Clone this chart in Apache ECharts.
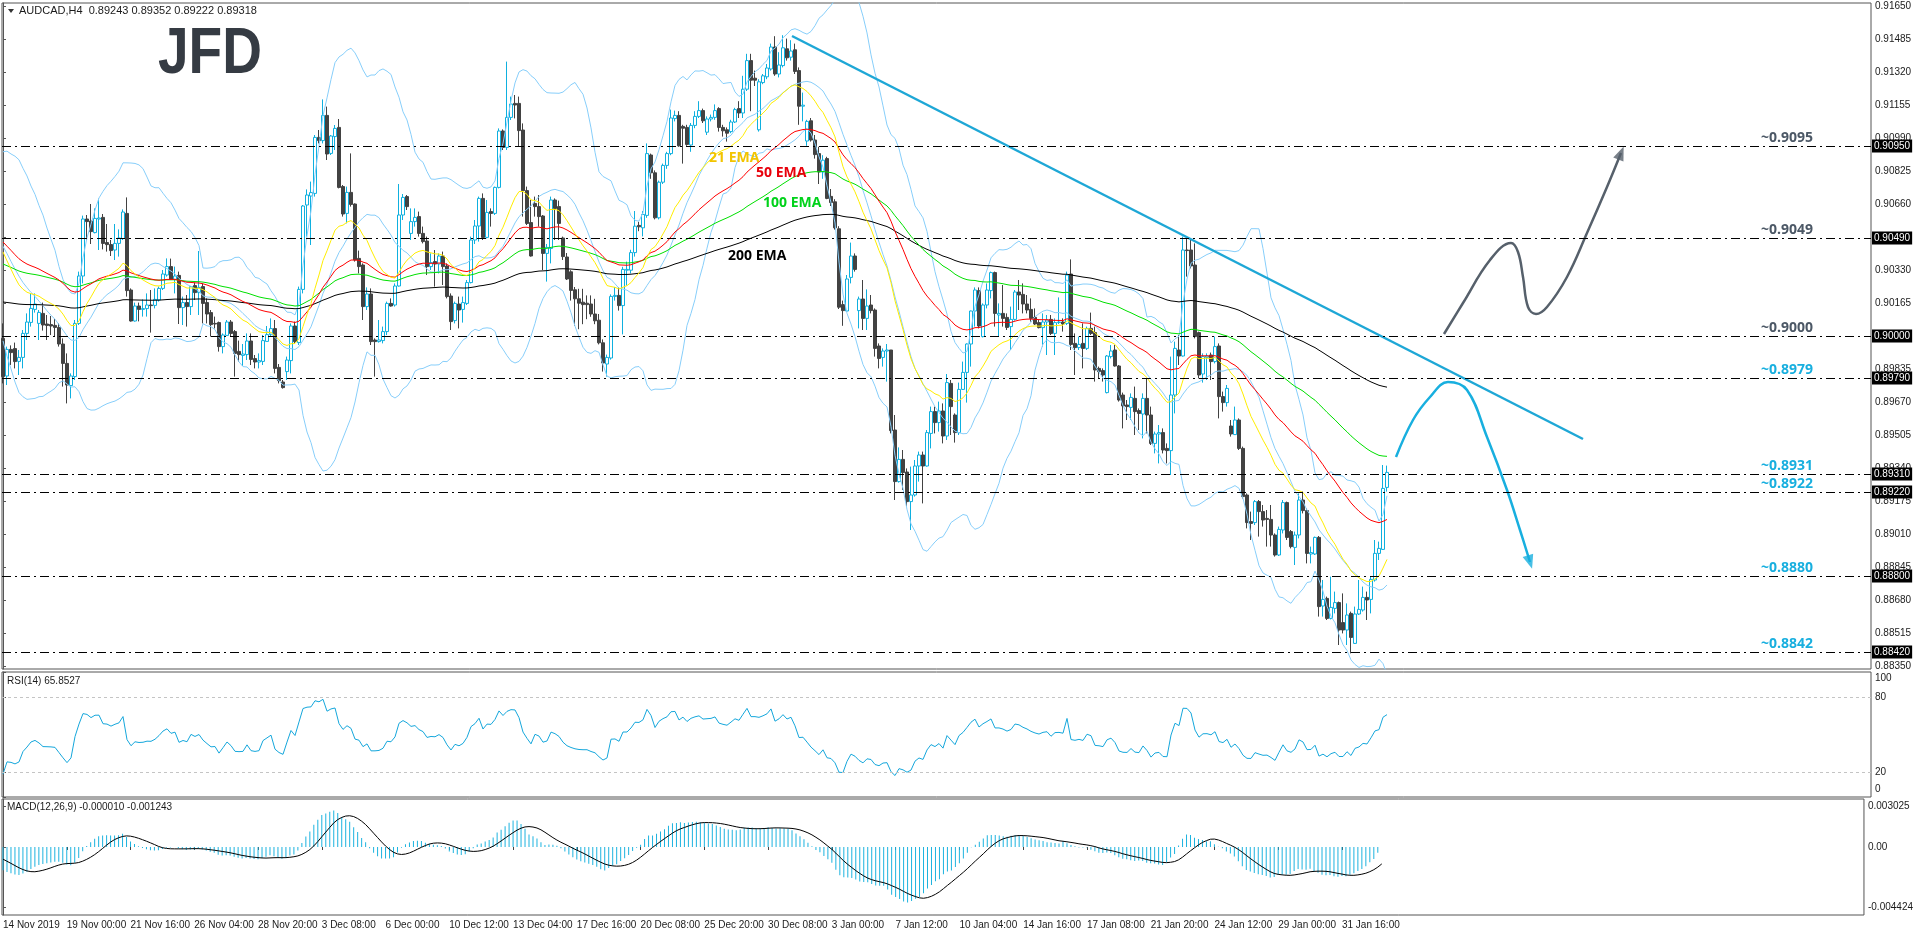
<!DOCTYPE html>
<html>
<head>
<meta charset="utf-8">
<title>AUDCAD H4</title>
<script src="https://cdn.jsdelivr.net/npm/echarts@6.0.0/dist/echarts.min.js"></script>
<style>
  html, body { margin: 0; padding: 0; background: #fff; }
  #chart { width: 1916px; height: 936px; }
</style>
</head>
<body>
<div id="chart"></div>
<script>
// bar index is the x value; one time label every 16 bars
const tickDates = ['14 Nov 2019', '19 Nov 00:00', '21 Nov 16:00', '26 Nov 04:00', '28 Nov 20:00', '3 Dec 08:00',
  '6 Dec 00:00', '10 Dec 12:00', '13 Dec 04:00', '17 Dec 16:00', '20 Dec 08:00', '25 Dec 20:00', '30 Dec 08:00',
  '3 Jan 00:00', '7 Jan 12:00', '10 Jan 04:00', '14 Jan 16:00', '17 Jan 08:00', '21 Jan 20:00', '24 Jan 12:00',
  '29 Jan 00:00', '31 Jan 16:00'];
const barsPerLabel = 16;

const priceTicks = [0.8835, 0.88515, 0.8868, 0.88845, 0.8901, 0.89175, 0.8934, 0.89505, 0.8967, 0.89835, 0.9,
  0.90165, 0.9033, 0.90495, 0.9066, 0.90825, 0.9099, 0.91155, 0.9132, 0.91485, 0.9165];
const rsiTicks = [0, 20, 80, 100];
const macdTicks = [0.003025, 0, -0.004424];

// [open, close, low, high]
const ohlc = [
[0.89988,0.89797,0.89763,0.90063],[0.89800,0.89933,0.89755,0.89947],[0.89933,0.89917,0.89855,0.89953],[0.89937,0.89872,0.89838,0.89967],
[0.89873,0.89893,0.89805,0.89930],[0.89893,0.90013,0.89838,0.90030],[0.90013,0.90070,0.89980,0.90113],[0.90068,0.90138,0.90047,0.90213],
[0.90133,0.90160,0.90117,0.90213],[0.90063,0.90118,0.89980,0.90130],[0.90113,0.90055,0.90027,0.90167],[0.90060,0.90053,0.89980,0.90105],
[0.90057,0.90050,0.90005,0.90100],[0.90053,0.90043,0.89997,0.90085],[0.90043,0.89960,0.89947,0.90063],[0.89960,0.89863,0.89747,0.89988],
[0.89863,0.89755,0.89663,0.89913],[0.89752,0.89800,0.89688,0.89813],[0.89797,0.90063,0.89780,0.90080],[0.90063,0.90300,0.90055,0.90322],
[0.90300,0.90585,0.90263,0.90602],[0.90585,0.90572,0.90480,0.90605],[0.90575,0.90522,0.90460,0.90660],[0.90517,0.90588,0.90513,0.90638],
[0.90585,0.90590,0.90430,0.90687],[0.90593,0.90463,0.90433,0.90610],[0.90467,0.90457,0.90422,0.90560],[0.90457,0.90427,0.90400,0.90480],
[0.90430,0.90463,0.90380,0.90560],[0.90463,0.90490,0.90397,0.90533],[0.90487,0.90620,0.90480,0.90633],[0.90613,0.90227,0.90197,0.90693],
[0.90230,0.90075,0.90072,0.90238],[0.90075,0.90150,0.90072,0.90167],[0.90150,0.90133,0.90073,0.90167],[0.90133,0.90137,0.90097,0.90183],
[0.90137,0.90155,0.90097,0.90213],[0.90155,0.90152,0.90017,0.90230],[0.90153,0.90183,0.90138,0.90238],[0.90180,0.90238,0.90172,0.90247],
[0.90238,0.90310,0.90230,0.90330],[0.90305,0.90347,0.90297,0.90388],[0.90347,0.90283,0.90280,0.90387],[0.90283,0.90300,0.90213,0.90347],
[0.90303,0.90142,0.90060,0.90322],[0.90142,0.90167,0.90055,0.90197],[0.90167,0.90147,0.90047,0.90205],[0.90147,0.90247,0.90105,0.90250],
[0.90252,0.90217,0.90180,0.90267],[0.90217,0.90243,0.90105,0.90425],[0.90247,0.90163,0.90063,0.90263],[0.90167,0.90110,0.90063,0.90188],
[0.90117,0.90057,0.89997,0.90130],[0.90063,0.90060,0.90038,0.90097],[0.90067,0.89947,0.89922,0.90072],[0.89947,0.90005,0.89913,0.90013],
[0.90003,0.90070,0.90000,0.90080],[0.90070,0.90013,0.90000,0.90080],[0.90022,0.89913,0.89797,0.90030],[0.89923,0.89907,0.89872,0.89977],
[0.89903,0.89910,0.89850,0.89960],[0.89907,0.89975,0.89880,0.90013],[0.89975,0.89883,0.89855,0.90013],[0.89887,0.89870,0.89838,0.89905],
[0.89870,0.89877,0.89838,0.89913],[0.89873,0.89977,0.89855,0.90005],[0.89973,0.90007,0.89972,0.90050],[0.90007,0.90037,0.89997,0.90088],
[0.90037,0.89838,0.89813,0.90080],[0.89843,0.89777,0.89763,0.89860],[0.89770,0.89742,0.89737,0.89780],[0.89822,0.89880,0.89780,0.89897],
[0.89877,0.90050,0.89813,0.90063],[0.90050,0.89972,0.89963,0.90072],[0.89967,0.90233,0.89955,0.90247],[0.90233,0.90650,0.90213,0.90655],
[0.90655,0.90705,0.90497,0.90733],[0.90700,0.90717,0.90455,0.90772],[0.90713,0.90993,0.90697,0.91005],[0.90993,0.90977,0.90963,0.91030],
[0.90977,0.91103,0.90963,0.91183],[0.91103,0.90910,0.90880,0.91147],[0.90913,0.91000,0.90905,0.91005],[0.90997,0.91038,0.90930,0.91055],
[0.91043,0.90743,0.90738,0.91085],[0.90747,0.90610,0.90597,0.90755],[0.90613,0.90718,0.90563,0.90747],[0.90718,0.90658,0.90647,0.90913],
[0.90660,0.90380,0.90372,0.90663],[0.90388,0.90347,0.90313,0.90427],[0.90355,0.90147,0.90080,0.90363],[0.90147,0.90210,0.90130,0.90243],
[0.90210,0.89972,0.89955,0.90238],[0.89980,0.89972,0.89797,0.89988],[0.89972,0.89980,0.89967,0.90080],[0.89977,0.90022,0.89963,0.90047],
[0.90022,0.90163,0.90005,0.90172],[0.90163,0.90150,0.90147,0.90188],[0.90155,0.90250,0.90147,0.90263],[0.90250,0.90605,0.90247,0.90760],
[0.90605,0.90693,0.90580,0.90710],[0.90697,0.90647,0.90630,0.90705],[0.90513,0.90572,0.90480,0.90638],[0.90572,0.90593,0.90547,0.90638],
[0.90597,0.90513,0.90497,0.90622],[0.90513,0.90472,0.90463,0.90547],[0.90475,0.90347,0.90305,0.90497],[0.90347,0.90367,0.90330,0.90413],
[0.90372,0.90360,0.90247,0.90430],[0.90360,0.90400,0.90313,0.90413],[0.90400,0.90347,0.90255,0.90422],[0.90350,0.90197,0.90188,0.90363],
[0.90200,0.90072,0.90030,0.90213],[0.90077,0.90163,0.90063,0.90172],[0.90160,0.90130,0.90038,0.90197],[0.90133,0.90167,0.90067,0.90197],
[0.90163,0.90267,0.90155,0.90280],[0.90267,0.90480,0.90263,0.90497],[0.90480,0.90550,0.90460,0.90580],[0.90550,0.90688,0.90472,0.90697],
[0.90688,0.90493,0.90480,0.90713],[0.90493,0.90618,0.90488,0.90680],[0.90622,0.90613,0.90547,0.90638],[0.90613,0.90743,0.90605,0.90747],
[0.90743,0.91025,0.90738,0.91038],[0.91025,0.90943,0.90930,0.91033],[0.90943,0.91093,0.90930,0.91372],[0.91093,0.91160,0.91080,0.91197],
[0.91163,0.91155,0.91088,0.91205],[0.91163,0.91027,0.90950,0.91197],[0.91030,0.90727,0.90597,0.91063],[0.90727,0.90563,0.90555,0.90747],
[0.90567,0.90400,0.90397,0.90680],[0.90663,0.90647,0.90597,0.90697],[0.90647,0.90597,0.90547,0.90705],[0.90600,0.90413,0.90330,0.90605],
[0.90413,0.90443,0.90272,0.90460],[0.90438,0.90680,0.90363,0.90697],[0.90680,0.90638,0.90480,0.90688],[0.90647,0.90563,0.90480,0.90677],
[0.90490,0.90397,0.90380,0.90497],[0.90395,0.90285,0.90280,0.90415],[0.90321,0.90228,0.90177,0.90329],[0.90231,0.90186,0.90051,0.90245],
[0.90186,0.90164,0.90034,0.90236],[0.90169,0.90157,0.90059,0.90236],[0.90164,0.90157,0.90084,0.90203],[0.90160,0.90110,0.90096,0.90203],
[0.90110,0.90076,0.90059,0.90186],[0.90079,0.89966,0.89958,0.90110],[0.89966,0.89865,0.89822,0.89983],[0.89860,0.89893,0.89797,0.89907],
[0.89890,0.90198,0.89882,0.90208],[0.90198,0.90203,0.90177,0.90245],[0.90203,0.90152,0.90127,0.90245],[0.90152,0.90333,0.90008,0.90346],
[0.90329,0.90333,0.90253,0.90372],[0.90329,0.90417,0.90313,0.90431],[0.90417,0.90549,0.90397,0.90625],[0.90553,0.90546,0.90524,0.90571],
[0.90541,0.90608,0.90498,0.90625],[0.90603,0.90912,0.90591,0.90963],[0.90905,0.90816,0.90786,0.90912],[0.90816,0.90591,0.90583,0.90828],
[0.90591,0.90769,0.90583,0.90777],[0.90769,0.90853,0.90760,0.90862],[0.90853,0.90912,0.90836,0.90921],[0.90912,0.91090,0.90904,0.91132],
[0.91087,0.91103,0.91073,0.91127],[0.91103,0.90951,0.90946,0.91124],[0.91048,0.91039,0.90862,0.91056],[0.91043,0.90958,0.90951,0.91056],
[0.90955,0.91053,0.90921,0.91065],[0.91053,0.91098,0.91039,0.91124],[0.91098,0.91127,0.91090,0.91174],[0.91127,0.91076,0.91065,0.91137],
[0.91019,0.91085,0.91005,0.91098],[0.91085,0.91093,0.91073,0.91107],[0.91093,0.91127,0.91081,0.91158],[0.91137,0.91043,0.91022,0.91144],
[0.91043,0.91026,0.90997,0.91056],[0.91031,0.91014,0.90972,0.91043],[0.91022,0.91070,0.91014,0.91081],[0.91070,0.91132,0.91065,0.91141],
[0.91137,0.91115,0.91090,0.91174],[0.91115,0.91234,0.91090,0.91301],[0.91234,0.91377,0.91225,0.91411],[0.91377,0.91279,0.91124,0.91411],
[0.91289,0.91279,0.91250,0.91327],[0.91031,0.91271,0.91022,0.91284],[0.91267,0.91301,0.91259,0.91310],[0.91296,0.91340,0.91284,0.91360],
[0.91335,0.91445,0.91327,0.91462],[0.91445,0.91310,0.91301,0.91499],[0.91310,0.91355,0.91293,0.91419],[0.91352,0.91441,0.91343,0.91504],
[0.91436,0.91391,0.91377,0.91487],[0.91394,0.91425,0.91377,0.91479],[0.91431,0.91323,0.91310,0.91462],[0.91327,0.91149,0.91056,0.91343],
[0.91149,0.91154,0.91073,0.91217],[0.90975,0.91073,0.90951,0.91081],[0.91076,0.90980,0.90972,0.91090],[0.90980,0.90907,0.90887,0.91005],
[0.90912,0.90820,0.90760,0.90946],[0.90820,0.90879,0.90786,0.90904],[0.90887,0.90688,0.90684,0.90896],[0.90698,0.90667,0.90650,0.90735],
[0.90671,0.90541,0.90532,0.90684],[0.90536,0.90144,0.90135,0.90549],[0.90157,0.90127,0.90051,0.90177],[0.90125,0.90285,0.90120,0.90305],
[0.90293,0.90400,0.90263,0.90467],[0.90400,0.90333,0.90322,0.90413],[0.90127,0.90185,0.90038,0.90197],[0.90185,0.90088,0.90030,0.90280],
[0.90088,0.90150,0.90030,0.90233],[0.90155,0.90127,0.90113,0.90205],[0.90130,0.89938,0.89897,0.90138],[0.89950,0.89888,0.89838,0.89963],
[0.89893,0.89925,0.89847,0.89938],[0.89925,0.89930,0.89772,0.89960],[0.89930,0.89527,0.89513,0.89930],[0.89530,0.89272,0.89180,0.89605],
[0.89272,0.89383,0.89267,0.89443],[0.89383,0.89317,0.89230,0.89430],[0.89320,0.89172,0.89147,0.89338],[0.89172,0.89205,0.89030,0.89347],
[0.89205,0.89350,0.89197,0.89380],[0.89350,0.89405,0.89272,0.89422],[0.89405,0.89350,0.89163,0.89422],[0.89350,0.89517,0.89347,0.89530],
[0.89513,0.89622,0.89438,0.89647],[0.89622,0.89567,0.89513,0.89647],[0.89567,0.89625,0.89522,0.89672],[0.89625,0.89500,0.89463,0.89663],
[0.89500,0.89767,0.89480,0.89810],[0.89763,0.89647,0.89505,0.89780],[0.89605,0.89517,0.89467,0.89613],[0.89517,0.89733,0.89505,0.89767],
[0.89733,0.89818,0.89730,0.89872],[0.89818,0.89960,0.89667,0.89963],[0.89960,0.90125,0.89847,0.90127],[0.90125,0.90230,0.90047,0.90243],
[0.90227,0.90050,0.90038,0.90243],[0.89997,0.90155,0.89993,0.90163],[0.90155,0.90230,0.90138,0.90263],[0.90227,0.90317,0.90188,0.90322],
[0.90317,0.90113,0.90047,0.90322],[0.90105,0.90113,0.89997,0.90163],[0.90113,0.90088,0.90047,0.90255],[0.90093,0.90043,0.90030,0.90113],
[0.90047,0.90083,0.89930,0.90147],[0.90083,0.90220,0.90077,0.90230],[0.90220,0.90205,0.90130,0.90280],[0.90208,0.90160,0.90113,0.90263],
[0.90160,0.90130,0.90113,0.90205],[0.90133,0.90088,0.90072,0.90188],[0.90093,0.90060,0.90055,0.90138],[0.90067,0.90042,0.90038,0.90080],
[0.90042,0.90070,0.89947,0.90113],[0.90070,0.90080,0.89905,0.90105],[0.90083,0.90013,0.90005,0.90105],[0.90013,0.90067,0.89905,0.90088],
[0.90067,0.90070,0.90060,0.90193],[0.90070,0.90060,0.90022,0.90088],[0.90063,0.90305,0.90055,0.90322],[0.90310,0.89958,0.89930,0.90383],
[0.89963,0.89942,0.89805,0.90013],[0.89942,0.89958,0.89930,0.89997],[0.89963,0.89938,0.89838,0.90063],[0.89938,0.90038,0.89930,0.90047],
[0.90038,0.90013,0.90005,0.90117],[0.90017,0.89830,0.89772,0.90047],[0.89838,0.89822,0.89788,0.89847],[0.89827,0.89805,0.89772,0.89838],
[0.89717,0.89900,0.89713,0.89905],[0.89897,0.89925,0.89888,0.89955],[0.89930,0.89850,0.89847,0.89955],[0.89850,0.89680,0.89672,0.89855],
[0.89705,0.89650,0.89538,0.89717],[0.89655,0.89647,0.89580,0.89680],[0.89643,0.89693,0.89580,0.89713],[0.89688,0.89622,0.89505,0.89747],
[0.89627,0.89613,0.89530,0.89638],[0.89610,0.89688,0.89488,0.89713],[0.89688,0.89605,0.89513,0.89788],[0.89605,0.89463,0.89455,0.89647],
[0.89463,0.89510,0.89413,0.89522],[0.89510,0.89517,0.89363,0.89555],[0.89517,0.89430,0.89413,0.89538],[0.89438,0.89427,0.89363,0.89463],
[0.89427,0.89705,0.89305,0.89897],[0.89705,0.89938,0.89613,0.89972],[0.89930,0.89900,0.89855,0.90005],[0.89900,0.90430,0.89897,0.90497],
[0.90430,0.90427,0.90297,0.90497],[0.90430,0.90350,0.90338,0.90483],[0.90355,0.89997,0.89988,0.90463],[0.90017,0.89805,0.89788,0.90022],
[0.89810,0.89897,0.89767,0.89913],[0.89893,0.89900,0.89780,0.89913],[0.89905,0.89872,0.89780,0.89917],[0.89872,0.89947,0.89863,0.89997],
[0.89950,0.89697,0.89588,0.89963],[0.89697,0.89667,0.89622,0.89722],[0.89667,0.89738,0.89647,0.89755],[0.89550,0.89510,0.89497,0.89580],
[0.89507,0.89580,0.89505,0.89647],[0.89580,0.89438,0.89430,0.89588],[0.89438,0.89197,0.89188,0.89447],[0.89205,0.89067,0.89038,0.89213],
[0.89072,0.89063,0.88980,0.89122],[0.89067,0.89172,0.89055,0.89180],[0.89172,0.89122,0.88997,0.89180],[0.89122,0.89080,0.89047,0.89155],
[0.89088,0.89083,0.88947,0.89130],[0.89083,0.89005,0.88947,0.89155],[0.89005,0.88905,0.88897,0.89013],[0.88905,0.89033,0.88900,0.89047],
[0.89030,0.89167,0.89013,0.89180],[0.89167,0.88993,0.88980,0.89172],[0.89022,0.88947,0.88938,0.89030],[0.88943,0.89005,0.88855,0.89022],
[0.89005,0.89180,0.88988,0.89213],[0.89180,0.89127,0.89113,0.89222],[0.89127,0.88913,0.88863,0.89138],[0.88910,0.88917,0.88863,0.88947],
[0.88910,0.88993,0.88905,0.88997],[0.88993,0.88647,0.88597,0.89000],[0.88650,0.88683,0.88597,0.88780],[0.88688,0.88588,0.88580,0.88697],
[0.88588,0.88643,0.88583,0.88797],[0.88638,0.88667,0.88613,0.88722],[0.88667,0.88530,0.88455,0.88672],[0.88567,0.88530,0.88513,0.88713],
[0.88530,0.88605,0.88455,0.88663],[0.88613,0.88493,0.88413,0.88622],[0.88463,0.88610,0.88460,0.88647],[0.88610,0.88633,0.88605,0.88780],
[0.88630,0.88693,0.88622,0.88747],[0.88693,0.88680,0.88580,0.88722],[0.88683,0.88783,0.88613,0.88797],[0.88780,0.88913,0.88772,0.88980],
[0.88913,0.88938,0.88880,0.88972],[0.88933,0.89238,0.88930,0.89355],[0.89243,0.89318,0.89222,0.89352]
];

// closes before the first visible bar (estimated), only used to warm up bands, RSI and MACD
const seedCloses = [0.9068, 0.9074, 0.9071, 0.9078, 0.9083, 0.9079, 0.9075, 0.9080, 0.9072, 0.9069,
  0.9073, 0.9066, 0.9070, 0.9064, 0.9060, 0.9065, 0.9058, 0.9062, 0.9055, 0.9059,
  0.9052, 0.9056, 0.9049, 0.9045, 0.9050, 0.9041, 0.9033, 0.9021, 0.9010, 0.9001];
// EMA values at the first bar
const emaStart = { 21: 0.9042, 50: 0.9047, 100: 0.9036, 200: 0.9017 };

const levelValues = [0.9095, 0.9049, 0.9000, 0.8979, 0.8931, 0.8922, 0.8880, 0.8842];
const levelLabels = ['~0.9095', '~0.9049', '~0.9000', '~0.8979', '~0.8931', '~0.8922', '~0.8880', '~0.8842'];

const trendLine = [[197.25, 0.91500], [395, 0.89485]];
const bullPath = [[360.25, 0.90010], [365, 0.90165], [371.75, 0.90380], [377, 0.90465], [378.75, 0.90420],
  [380, 0.90295], [381.25, 0.90145], [383.25, 0.90110], [386, 0.90145], [391, 0.90295], [396, 0.90515],
  [401, 0.90745], [404.5, 0.90915]];
const bearPath = [[348.25, 0.89395], [352.5, 0.89580], [356.75, 0.89695], [361.25, 0.89770], [366, 0.89730],
  [371, 0.89495], [376, 0.89230], [379.25, 0.89030], [381.75, 0.88870]];

// ---- indicators ----
const N = ohlc.length;
const closes = ohlc.map(r => r[1]);
const full = seedCloses.concat(closes);
const off = seedCloses.length;

function ema(period) {
  const a = 2 / (period + 1);
  const out = [emaStart[period]];
  for (let i = 1; i < N; i++) out.push(out[i - 1] + a * (closes[i] - out[i - 1]));
  return out.map((v, i) => [i, v]);
}

const bbUp = [], bbMid = [], bbLow = [];
for (let i = 0; i < N; i++) {
  const w = full.slice(off + i - 19, off + i + 1);
  const m = w.reduce((s, v) => s + v, 0) / w.length;
  const sd = Math.sqrt(w.reduce((s, v) => s + (v - m) * (v - m), 0) / w.length);
  bbUp.push([i, m + 2 * sd]);
  bbMid.push([i, m]);
  bbLow.push([i, m - 2 * sd]);
}

function rsi(period) {
  let g = 0, l = 0;
  const out = [];
  for (let j = 1; j < full.length; j++) {
    const d = full[j] - full[j - 1];
    if (j <= period) {
      g += Math.max(d, 0) / period;
      l += Math.max(-d, 0) / period;
    } else {
      g = (g * (period - 1) + Math.max(d, 0)) / period;
      l = (l * (period - 1) + Math.max(-d, 0)) / period;
    }
    if (j >= off) out.push([j - off, l === 0 ? 100 : 100 - 100 / (1 + g / l)]);
  }
  return out;
}

const macdMain = [], macdSignal = [];
(function () {
  let e12 = full[0], e26 = full[0];
  const main = [];
  for (let j = 0; j < full.length; j++) {
    e12 += (2 / 13) * (full[j] - e12);
    e26 += (2 / 27) * (full[j] - e26);
    main.push(e12 - e26);
    if (j >= off) {
      const w = main.slice(j - 8, j + 1);
      macdMain.push([j - off, main[j]]);
      macdSignal.push([j - off, w.reduce((s, v) => s + v, 0) / w.length]);
    }
  }
})();

// ---- chart ----
const chart = echarts.init(document.getElementById('chart'));
const axisFont = { fontFamily: 'Liberation Sans', fontSize: 10, color: '#1a1a1a' };
const frame = { show: true, borderColor: '#555', borderWidth: 1, backgroundColor: 'transparent' };
const tickIdx = tickDates.map((d, k) => k * barsPerLabel);

const levelMarks = [];
levelValues.forEach((v, k) => {
  levelMarks.push({
    yAxis: v,
    label: {
      show: true, position: 'insideEndTop', distance: [58, 1], formatter: levelLabels[k],
      color: k < 3 ? '#4c5866' : '#18afdf', fontFamily: 'Open Sans', fontWeight: 'bold', fontSize: 14
    }
  });
  levelMarks.push({
    yAxis: v,
    label: {
      show: true, position: 'end', distance: 1, formatter: v.toFixed(5),
      color: '#fff', backgroundColor: '#000', padding: [2, 2, 1, 2], fontFamily: 'Liberation Sans', fontSize: 10
    }
  });
});

const thinLine = (name, data, color, extra) => Object.assign({
  name, type: 'line', xAxisIndex: 0, yAxisIndex: 0, data, symbol: 'none', silent: true,
  lineStyle: { color, width: 1 }
}, extra || {});

const option = {
  animation: false,
  backgroundColor: '#fff',
  grid: [
    Object.assign({ left: 2, top: 3, width: 1869, height: 666 }, frame),
    Object.assign({ left: 2, top: 672, width: 1869, height: 125 }, frame),
    Object.assign({ left: 2, top: 799, width: 1869, height: 116 }, frame)
  ],
  xAxis: [0, 1, 2].map(g => ({
    type: 'value', gridIndex: g, min: -0.25, max: 467, show: g === 2,
    axisLine: { show: false }, splitLine: { show: false },
    axisTick: { show: true, customValues: tickIdx, length: 3, lineStyle: { color: '#444' } },
    axisLabel: Object.assign({
      customValues: tickIdx, align: 'left', margin: 5,
      formatter: v => tickDates[Math.round(v / barsPerLabel)] || ''
    }, axisFont)
  })),
  yAxis: [
    {
      type: 'value', gridIndex: 0, position: 'right', min: 0.88335, max: 0.91665,
      axisLine: { show: true, lineStyle: { color: '#555' } }, splitLine: { show: false },
      axisTick: { show: true, customValues: priceTicks, length: 3, lineStyle: { color: '#555' } },
      axisLabel: Object.assign({ customValues: priceTicks, margin: 4, formatter: v => v.toFixed(5) }, axisFont)
    },
    {
      type: 'value', gridIndex: 1, position: 'right', min: 0, max: 100,
      axisLine: { show: true, lineStyle: { color: '#555' } }, splitLine: { show: false },
      axisTick: { show: true, customValues: rsiTicks, length: 3, lineStyle: { color: '#555' } },
      axisLabel: Object.assign({
        customValues: rsiTicks, margin: 4,
        formatter: v => v === 100 ? '{hi|100}' : (v === 0 ? '{lo|0}' : String(v)),
        rich: {
          hi: Object.assign({ padding: [12, 0, 0, 0] }, axisFont),
          lo: Object.assign({ padding: [0, 0, 16, 0] }, axisFont)
        }
      }, axisFont)
    },
    {
      type: 'value', gridIndex: 2, position: 'right', min: -0.005017, max: 0.003541,
      axisLine: { show: true, lineStyle: { color: '#555' } }, splitLine: { show: false },
      axisTick: { show: true, customValues: macdTicks, length: 3, lineStyle: { color: '#555' } },
      axisLabel: Object.assign({
        customValues: macdTicks, margin: 4, formatter: v => v === 0 ? '0.00' : v.toFixed(6)
      }, axisFont)
    }
  ],
  series: [
    {
      name: 'AUDCAD', type: 'candlestick', xAxisIndex: 0, yAxisIndex: 0, silent: true,
      data: ohlc.map((r, i) => [i, r[0], r[1], r[2], r[3]]),
      encode: { x: 0, y: [1, 2, 3, 4] },
      barWidth: 3,
      itemStyle: {
        color: '#ffffff', color0: '#424242', borderColor: '#0fb0df', borderColor0: '#424242',
        borderColorDoji: '#424242', borderWidth: 1
      },
      markLine: {
        silent: true, symbol: ['none', 'none'], animation: false, precision: 5,
        lineStyle: { color: '#000', width: 1, type: [9, 4, 2, 4] },
        data: levelMarks
      }
    },
    thinLine('BB upper', bbUp, '#87cefa'),
    thinLine('BB middle', bbMid, '#87cefa'),
    thinLine('BB lower', bbLow, '#87cefa'),
    thinLine('EMA 200', ema(200), '#000000'),
    thinLine('EMA 100', ema(100), '#00e000'),
    thinLine('EMA 50', ema(50), '#ff0000'),
    thinLine('EMA 21', ema(21), '#ffee00'),
    thinLine('Trend', trendLine, '#1ea7d6', { lineStyle: { color: '#1ea7d6', width: 2.5 }, z: 4 }),
    thinLine('Bull path', bullPath, '#56606b', { smooth: 0.4, lineStyle: { color: '#56606b', width: 2.5 }, z: 4 }),
    thinLine('Bear path', bearPath, '#18afdf', { smooth: 0.4, lineStyle: { color: '#18afdf', width: 2.5 }, z: 4 }),
    {
      id: 'heads', type: 'scatter', xAxisIndex: 0, yAxisIndex: 0, silent: true, z: 4,
      symbol: 'triangle', symbolSize: [11, 14],
      data: [
        { value: bullPath[bullPath.length - 1], itemStyle: { color: '#56606b' } },
        { value: bearPath[bearPath.length - 1], itemStyle: { color: '#18afdf' } }
      ]
    },
    {
      name: 'RSI', type: 'line', xAxisIndex: 1, yAxisIndex: 1, data: rsi(14), symbol: 'none', silent: true,
      lineStyle: { color: '#15a7dc', width: 1 },
      markLine: {
        silent: true, symbol: ['none', 'none'], label: { show: false },
        lineStyle: { color: '#c4c4c4', width: 1, type: [3, 3] },
        data: [{ yAxis: 80 }, { yAxis: 20 }]
      }
    },
    {
      name: 'MACD', type: 'bar', xAxisIndex: 2, yAxisIndex: 2, data: macdMain, barWidth: 1, silent: true,
      itemStyle: { color: '#1db3df' }
    },
    {
      name: 'Signal', type: 'line', xAxisIndex: 2, yAxisIndex: 2, data: macdSignal, symbol: 'none', silent: true,
      lineStyle: { color: '#000', width: 1 }
    }
  ],
  graphic: [
    { type: 'polygon', z: 100, shape: { points: [[8, 9], [14, 9], [11, 13]] }, style: { fill: '#333' } },
    { type: 'text', z: 100, left: 19, top: 5,
      style: { text: 'AUDCAD,H4  0.89243 0.89352 0.89222 0.89318', font: '11px "Liberation Sans"', fill: '#1a1a1a' } },
    { type: 'text', z: 100, x: 158, y: 23, scaleX: 0.86,
      style: { text: 'JFD', font: 'bold 64px "Liberation Sans"', fill: '#353b43', textVerticalAlign: 'top', verticalAlign: 'top' } },
    { type: 'text', z: 100, left: 709, top: 151,
      style: { text: '21 EMA', font: 'bold 14px "Open Sans"', fill: '#f2c400' } },
    { type: 'text', z: 100, left: 756, top: 166,
      style: { text: '50 EMA', font: 'bold 14px "Open Sans"', fill: '#e8000b' } },
    { type: 'text', z: 100, left: 763, top: 196,
      style: { text: '100 EMA', font: 'bold 14px "Open Sans"', fill: '#00d21a' } },
    { type: 'text', z: 100, left: 728, top: 249,
      style: { text: '200 EMA', font: 'bold 14px "Open Sans"', fill: '#000' } },
    { type: 'text', z: 100, left: 7, top: 676,
      style: { text: 'RSI(14) 65.8527', font: '10px "Liberation Sans"', fill: '#1a1a1a' } },
    { type: 'text', z: 100, left: 7, top: 802,
      style: { text: 'MACD(12,26,9) -0.000010 -0.001243', font: '10px "Liberation Sans"', fill: '#1a1a1a' } }
  ]
};

chart.setOption(option);

// point each arrow head along the last segment of its path
function headAngle(path) {
  const a = chart.convertToPixel({ gridIndex: 0 }, path[path.length - 2]);
  const b = chart.convertToPixel({ gridIndex: 0 }, path[path.length - 1]);
  return Math.atan2(a[1] - b[1], b[0] - a[0]) * 180 / Math.PI - 90;
}
chart.setOption({
  series: [{
    id: 'heads',
    data: [
      { value: bullPath[bullPath.length - 1], symbolRotate: headAngle(bullPath), itemStyle: { color: '#56606b' } },
      { value: bearPath[bearPath.length - 1], symbolRotate: headAngle(bearPath), itemStyle: { color: '#18afdf' } }
    ]
  }]
});
</script>
</body>
</html>
